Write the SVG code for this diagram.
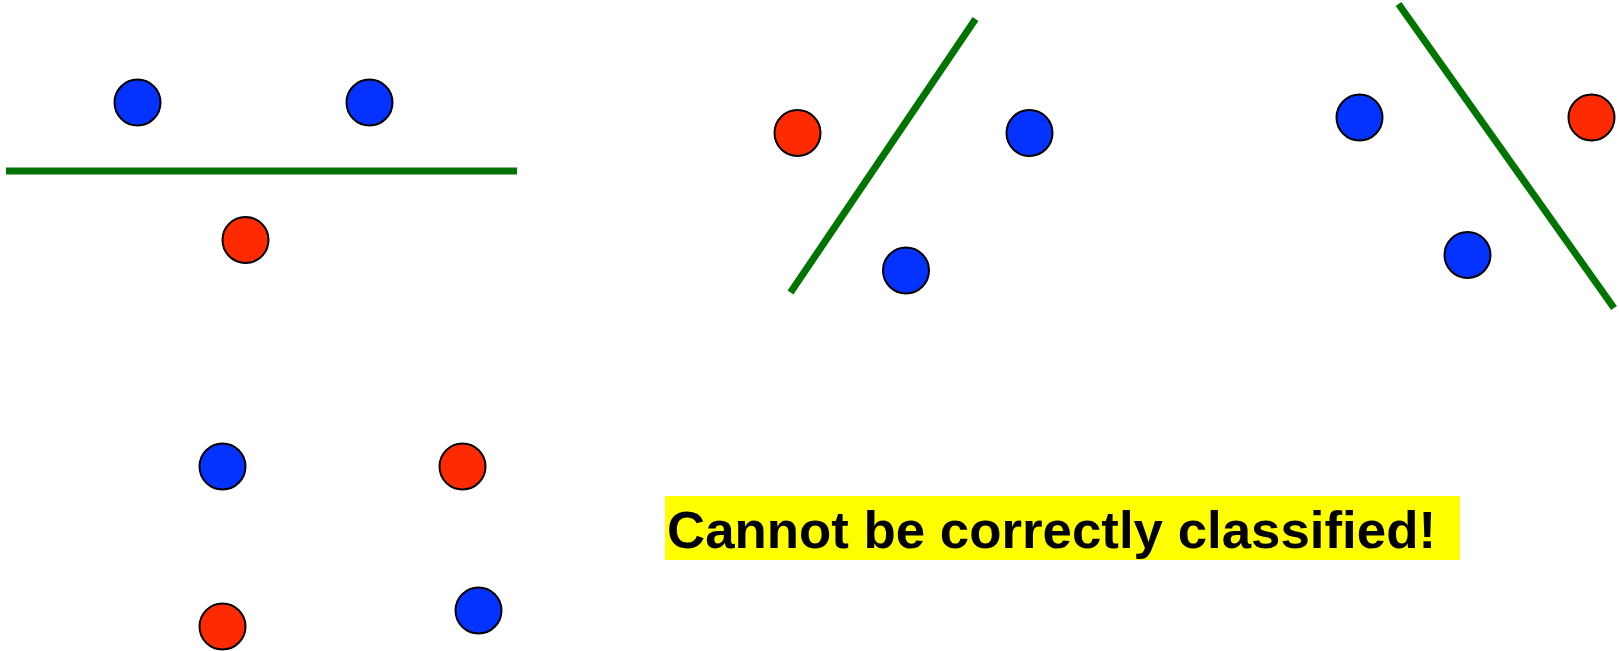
<svg xmlns="http://www.w3.org/2000/svg" width="1619" height="651" viewBox="0 0 1619 651">
<style>
.blue{fill:#0433ff;stroke:#000;stroke-width:2}
.red{fill:#ff2a00;stroke:#000;stroke-width:2}
.sep{stroke:#007400;stroke-width:7;fill:none}
.lbl{font-family:"Liberation Sans",Arial,sans-serif;font-weight:bold;font-size:52px;fill:#000}
</style>
<rect width="1619" height="651" fill="#fff"/>
<g id="connectors">
<line class="sep" x1="6" y1="171" x2="517" y2="171"/>
<line class="sep" x1="975.5" y1="19" x2="790.5" y2="292.5"/>
<line class="sep" x1="1398.5" y1="4" x2="1614" y2="308"/>
</g>
<g id="p1"><circle class="blue" cx="137.5" cy="102.5" r="23"/></g>
<g id="p2"><circle class="blue" cx="369.5" cy="102.5" r="23"/></g>
<g id="p3"><circle class="red" cx="245.5" cy="240" r="23"/></g>
<g id="p4"><circle class="red" cx="797.5" cy="133" r="23"/></g>
<g id="p5"><circle class="blue" cx="1029.5" cy="133" r="23"/></g>
<g id="p6"><circle class="blue" cx="906" cy="270.5" r="23"/></g>
<g id="p7"><circle class="blue" cx="1359.5" cy="117.5" r="23"/></g>
<g id="p8"><circle class="red" cx="1591.5" cy="117.5" r="23"/></g>
<g id="p9"><circle class="blue" cx="1467.5" cy="255" r="23"/></g>
<g id="p10"><circle class="blue" cx="222.5" cy="466.5" r="23"/></g>
<g id="p11"><circle class="red" cx="462.5" cy="466.5" r="23"/></g>
<g id="p12"><circle class="red" cx="222.5" cy="626.5" r="23"/></g>
<g id="p13"><circle class="blue" cx="478.5" cy="610.5" r="23"/></g>
<g id="label">
<rect x="665" y="496" width="795" height="64" fill="#ffff00"/>
<text class="lbl" x="667" y="548" textLength="769" lengthAdjust="spacingAndGlyphs">Cannot be correctly classified!</text>
</g>
</svg>
